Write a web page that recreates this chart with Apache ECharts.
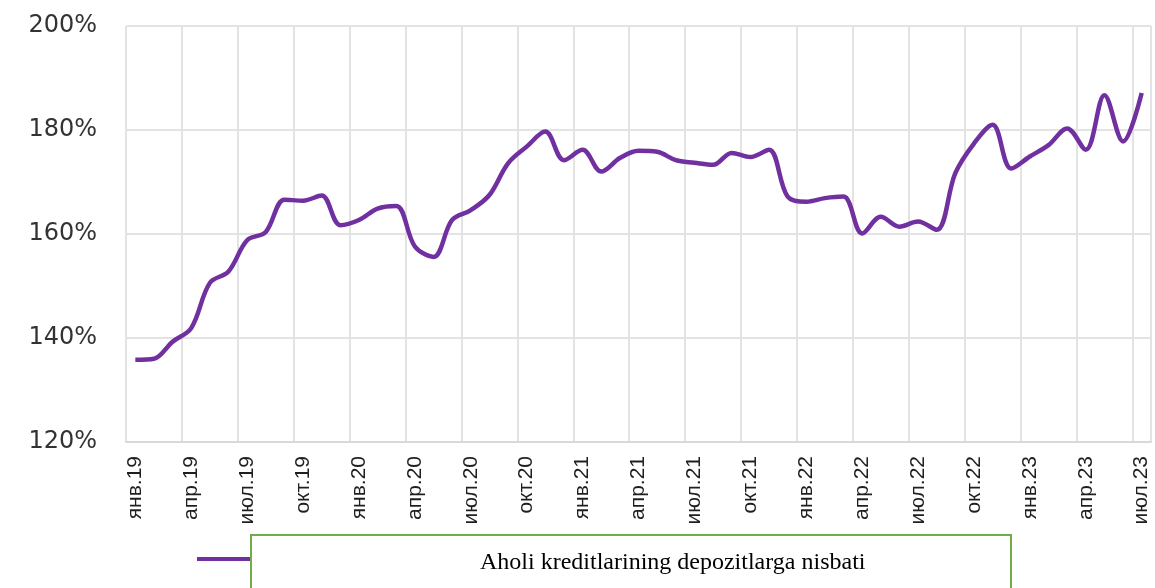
<!DOCTYPE html>
<html>
<head>
<meta charset="utf-8">
<script src="https://cdn.jsdelivr.net/npm/echarts@6/dist/echarts.min.js"></script>
<style>
    html, body { margin: 0; padding: 0; background: #fff; }
    #chart { width: 1155px; height: 588px; }
</style>
</head>
<body>
<div id="chart"></div>
<script>
// месяцы и годы для подписей оси X
var monthNames = ["янв", "фев", "мар", "апр", "май", "июн", "июл", "авг", "сен", "окт", "ноя", "дек"];
var years = ["19", "20", "21", "22", "23"];
var lastMonth = 7; // ряд заканчивается на июл.23

// отношение кредитов населения к депозитам, %
var ratio = [
    135.8, 136.0, 139.3, 141.9, 150.6, 152.8, 158.8, 160.4, 166.6, 166.4, 167.4, 161.7,
    162.7, 164.9, 165.4, 157.6, 155.6, 162.7, 164.6, 167.5, 173.6, 176.8, 179.7, 174.2,
    176.2, 172.0, 174.6, 176.0, 175.8, 174.2, 173.7, 173.3, 175.6, 174.8, 176.2, 167.2,
    166.2, 166.9, 167.2, 160.1, 163.3, 161.4, 162.4, 160.8, 171.7, 177.4, 181.0, 172.6,
    174.9, 177.1, 180.3, 176.2, 186.7, 177.8, 187.1
];

var yTicks = { min: 120, max: 200, step: 20 };
var seriesName = "Aholi kreditlarining depozitlarga nisbati";

var categories = [];
years.forEach(function (yy, k) {
    var n = (k === years.length - 1) ? lastMonth : 12;
    for (var m = 0; m < n; m++) {
        categories.push(monthNames[m] + "." + yy);
    }
});

var chart = echarts.init(document.getElementById("chart"), null, { renderer: "canvas" });

var option = {
    animation: false,
    backgroundColor: "#ffffff",
    grid: {
        left: 126,
        right: 4,
        top: 26,
        bottom: 146
    },
    legend: {
        left: 197,
        top: 557,
        padding: 0,
        icon: "rect",
        itemWidth: 53,
        itemHeight: 4,
        formatter: function () { return ""; },
        data: [seriesName]
    },
    xAxis: {
        type: "category",
        data: categories,
        boundaryGap: true,
        axisLine: { show: true, lineStyle: { color: "#d9d9d9", width: 2 } },
        axisTick: { show: false },
        axisLabel: {
            interval: 2,
            rotate: 90,
            margin: 14,
            color: "#1f1f1f",
            fontFamily: "Liberation Sans",
            fontSize: 21
        },
        splitLine: {
            show: true,
            interval: 2,
            lineStyle: { color: "#e3e3e3", width: 2 }
        }
    },
    yAxis: {
        type: "value",
        min: yTicks.min,
        max: yTicks.max,
        interval: yTicks.step,
        axisLine: { show: false },
        axisTick: { show: false },
        axisLabel: {
            formatter: "{value}%",
            margin: 29,
            color: "#333333",
            fontFamily: "DejaVu Sans",
            fontSize: 24
        },
        splitLine: { lineStyle: { color: "#e3e3e3", width: 2 } }
    },
    series: [{
        name: seriesName,
        type: "line",
        data: ratio,
        smooth: 0.35,
        showSymbol: false,
        itemStyle: { color: "#7030a0" },
        lineStyle: { color: "#7030a0", width: 4.5 }
    }],
    graphic: [{
        type: "rect",
        left: 250,
        top: 534,
        z: 100,
        shape: { width: 760, height: 80 },
        style: { fill: "#ffffff", stroke: "#70ad47", lineWidth: 2 }
    }, {
        type: "text",
        left: 480,
        top: 551,
        z: 101,
        style: {
            text: seriesName,
            fill: "#000000",
            font: "24px 'Liberation Serif'"
        }
    }]
};

chart.setOption(option);
</script>
</body>
</html>
